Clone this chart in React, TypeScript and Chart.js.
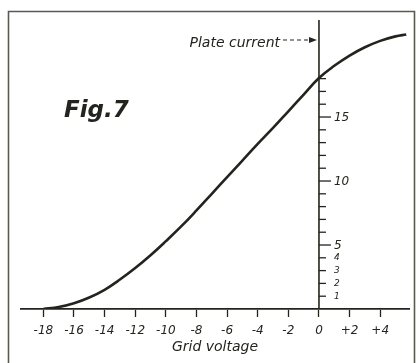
import React, { useEffect, useRef } from "react";
import { Chart, registerables } from "chart.js";

Chart.register(...registerables);

// Data
const gridVoltage = [-18, -17, -16, -15, -14, -13, -12, -11, -10, -9, -8, -7, -6, -5, -4, -3, -2, -1, 0, 1, 2, 3, 4, 5, 5.7];
const plateCurrent = [0, 0.15, 0.45, 0.9, 1.5, 2.3, 3.2, 4.2, 5.3, 6.45, 7.7, 9.0, 10.3, 11.6, 12.9, 14.15, 15.45, 16.75, 18.05, 19.0, 19.8, 20.45, 20.95, 21.3, 21.45];
const yTickValues = [1, 2, 3, 4, 5, 6, 7, 8, 9, 10, 11, 12, 13, 14, 15, 16, 17, 18];
const yMajorLabels = [5, 10, 15];
const ySmallLabels = [1, 2, 3, 4];
const xStep = 2;
const xMin = -19.46;
const xMax = 5.88;
const yMin = 0;
const yMax = 22.58;

const INK = "#24241e";
const FRAME = "#5a5a52";
const FONT = "'DejaVu Sans', sans-serif";

const decorPlugin = {
  id: "decor",
  beforeDraw(chart: any) {
    const { ctx } = chart;
    ctx.save();
    ctx.fillStyle = "#ffffff";
    ctx.fillRect(0, 0, chart.width, chart.height);
    ctx.strokeStyle = FRAME;
    ctx.lineWidth = 1.6;
    ctx.beginPath();
    ctx.moveTo(8.5, chart.height);
    ctx.lineTo(8.5, 11.5);
    ctx.lineTo(414.5, 11.5);
    ctx.lineTo(414.5, chart.height);
    ctx.stroke();
    ctx.restore();
  },
  afterDatasetsDraw(chart: any) {
    const { ctx } = chart;
    const xs = chart.scales.x;
    const ys = chart.scales.y;
    const x0 = xs.getPixelForValue(0);
    ctx.save();
    ctx.strokeStyle = INK;
    ctx.fillStyle = INK;
    ctx.lineWidth = 1.6;
    // vertical axis at zero grid voltage
    ctx.beginPath();
    ctx.moveTo(x0, ys.getPixelForValue(yMin));
    ctx.lineTo(x0, ys.getPixelForValue(yMax));
    ctx.stroke();
    ctx.lineWidth = 1.3;
    for (const v of yTickValues) {
      const py = ys.getPixelForValue(v);
      const len = yMajorLabels.includes(v) ? 12 : 7;
      ctx.beginPath();
      ctx.moveTo(x0, py);
      ctx.lineTo(x0 + len, py);
      ctx.stroke();
    }
    ctx.textBaseline = "middle";
    ctx.textAlign = "left";
    ctx.font = `italic 12px ${FONT}`;
    for (const v of yMajorLabels) {
      ctx.fillText(String(v), x0 + 15, ys.getPixelForValue(v) + 1);
    }
    ctx.font = `italic 9px ${FONT}`;
    for (const v of ySmallLabels) {
      ctx.fillText(String(v), x0 + 15, ys.getPixelForValue(v));
    }
    // Plate current label with dashed arrow
    ctx.font = `italic 14px ${FONT}`;
    ctx.textAlign = "right";
    ctx.fillText("Plate current", 280, 43);
    ctx.lineWidth = 1.2;
    ctx.setLineDash([4, 3]);
    ctx.beginPath();
    ctx.moveTo(283, 40);
    ctx.lineTo(314, 40);
    ctx.stroke();
    ctx.setLineDash([]);
    ctx.beginPath();
    ctx.moveTo(317, 40);
    ctx.lineTo(309, 37);
    ctx.lineTo(309, 43);
    ctx.closePath();
    ctx.fill();
    // Figure label
    ctx.textAlign = "left";
    ctx.textBaseline = "alphabetic";
    ctx.font = `italic bold 23px ${FONT}`;
    ctx.fillText("Fig.7", 64, 117);
    ctx.restore();
  },
};

export default function App() {
  const canvasRef = useRef<HTMLCanvasElement | null>(null);

  useEffect(() => {
    if (!canvasRef.current) return;
    const chart = new Chart(canvasRef.current, {
      type: "line",
      data: {
        datasets: [
          {
            data: gridVoltage.map((v, i) => ({ x: v, y: plateCurrent[i] })),
            borderColor: INK,
            borderWidth: 2.6,
            pointRadius: 0,
            tension: 0.4,
            fill: false,
          },
        ],
      },
      options: {
        animation: false,
        responsive: false,
        devicePixelRatio: 1,
        layout: { padding: { top: 20, left: 21, right: 8, bottom: 0 } },
        plugins: { legend: { display: false }, tooltip: { enabled: false } },
        scales: {
          x: {
            type: "linear",
            position: "bottom",
            min: xMin,
            max: xMax,
            afterFit: (scale: any) => {
              scale.height = 54;
            },
            border: { display: true, color: INK, width: 1.8 },
            grid: {
              drawOnChartArea: false,
              drawTicks: true,
              tickLength: 8,
              tickColor: INK,
              tickWidth: 1.3,
            },
            ticks: {
              stepSize: xStep,
              includeBounds: false,
              color: INK,
              padding: 7,
              maxRotation: 0,
              autoSkip: false,
              font: { family: FONT, size: 12, style: "italic" },
              callback: (v: any) => {
                const n = Number(v);
                if (n > 0) return "+" + n;
                if (n < 0) return "-" + Math.abs(n);
                return "0";
              },
            },
            title: {
              display: true,
              text: "Grid voltage",
              color: INK,
              padding: { top: 0, bottom: 7 },
              font: { family: FONT, size: 14, style: "italic" },
            },
          },
          y: {
            type: "linear",
            display: false,
            min: yMin,
            max: yMax,
          },
        },
      },
      plugins: [decorPlugin],
    });
    return () => chart.destroy();
  }, []);

  return (
    <div style={{ position: "fixed", left: 0, top: 0, width: 417, height: 363, overflow: "hidden", background: "#fff" }}>
      <canvas ref={canvasRef} width={417} height={363} style={{ display: "block", width: 417, height: 363 }} />
    </div>
  );
}
